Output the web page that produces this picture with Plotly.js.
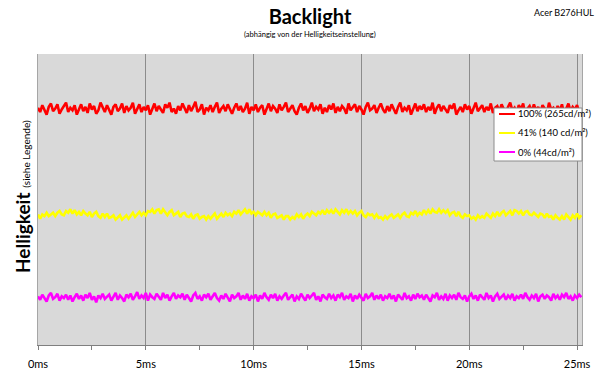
<!DOCTYPE html>
<html>
<head>
<meta charset="utf-8">
<script src="https://cdn.plot.ly/plotly-3.0.1.min.js"></script>
<style>html,body{margin:0;padding:0;background:#fff;}#chart{width:600px;height:384px;}</style>
</head>
<body>
<div id="chart"></div>
<script>
// sample spacing of the measurement (ms)
const sampleStartMs = 0;
const sampleStepMs = 0.1;

const seriesNames = ["100% (265cd/m\u00b2)", "41% (140 cd/m\u00b2)", "0% (44cd/m\u00b2)"];
const seriesColors = ["#ff0000", "#ffff00", "#ff00ff"];

const red100 = [
266,261,269,263,258,267,271,262,265,270,259,264,268,272,261,266,263,269,258,265,
270,262,267,260,271,264,268,259,263,272,266,261,269,264,258,267,270,262,265,271,
260,268,263,266,272,259,264,270,261,267,263,269,258,265,271,262,268,264,260,270,
266,272,261,265,259,268,263,271,266,260,269,262,267,273,261,264,270,258,266,263,
269,261,267,272,260,265,268,262,270,264,259,266,271,263,268,261,265,272,259,267,
263,270,261,266,269,258,264,271,262,268,265,260,270,263,267,272,261,265,269,262,
258,266,271,263,268,260,265,272,262,267,264,270,259,266,261,269,264,271,260,267,
262,268,265,259,271,263,266,270,261,268,264,258,267,272,263,265,269,260,266,271,
264,260,268,262,270,265,259,267,272,261,266,263,269,258,265,271,262,268,264,270,
261,267,263,272,259,266,270,262,268,264,260,269,265,271,258,263,267,261,270,264,
268,259,266,272,262,265,269,261,267,263,271,260,266,268,262,270,264,259,267,272,
263,266,260,269,264,271,258,265,268,262,270,263,267,261,269,265,259,272,264,266,
261,268,263,270,259,265,271,262,267,264,269,261,265];

const yellow41 = [
141,136,141,139,143,139,141,143,139,143,145,141,140,145,143,147,142,
146,141,144,140,145,142,140,144,138,142,144,139,137,142,138,142,137,138,140,135,138,140,135,
137,140,136,140,143,138,141,144,140,143,140,145,144,147,142,146,
147,142,147,143,140,144,146,140,142,144,138,142,143,139,138,141,136,140,141,136,138,139,135,
139,136,139,142,136,139,142,138,143,140,142,139,144,142,146,141,144,147,142,
147,142,144,140,144,142,140,144,140,143,137,141,142,137,139,140,135,139,139,135,
138,136,141,138,141,136,140,142,139,144,142,140,144,142,146,141,146,143,
146,142,147,144,141,146,143,147,142,145,
142,145,140,143,145,140,138,142,140,141,137,141,137,138,135,
139,136,139,141,137,139,141,137,141,143,139,138,143,141,145,140,143,141,146,142,146,142,147,144,143,147,
143,146,143,146,140,143,144,139,144,139,137,141,139,140,136,138,135,
140,137,139,137,142,139,137,142,139,144,139,143,145,140,143,145,140,146,145,
142,145,140,144,145,141,140,143,141,138,142,141,137,142,138,139,135,140,137,135,
139,135,141,138,135,140,137,142,137,140];

const magenta0 = [
45,41,47,43,39,46,49,42,44,48,40,45,43,47,41,46,39,44,48,42,
46,40,47,43,49,41,45,38,46,43,48,42,44,47,40,45,49,41,46,43,
39,47,44,48,41,45,50,42,46,43,49,40,47,44,42,48,45,41,49,43,
47,40,45,49,42,46,44,48,41,47,43,39,46,49,42,45,40,47,44,48,
41,45,49,43,40,46,42,48,44,39,47,43,45,49,41,46,42,48,40,45,
43,47,39,46,42,49,44,41,47,43,48,40,45,42,46,49,41,44,47,39,
45,42,48,44,40,47,43,46,49,41,45,39,47,44,42,48,43,46,40,47,
44,49,41,45,43,48,39,46,42,47,44,40,48,43,45,49,41,46,42,47,
40,45,43,48,42,46,39,47,44,41,49,43,45,40,47,42,48,44,46,41,
47,43,39,46,44,49,41,45,42,48,40,46,43,47,41,49,44,42,46,39,
45,48,42,46,40,47,44,41,49,43,46,39,45,48,42,44,47,41,46,43,
48,40,45,43,47,42,49,44,41,46,43,48,39,45,47,42,46,44,40,48,
43,46,41,47,44,49,42,45,40,46,43,47,44];

const tickValues = [0, 5, 10, 15, 20, 25];
const tickLabels = ["0ms", "5ms", "10ms", "15ms", "20ms", "25ms"];

const FONT = "Lato, 'Open Sans', sans-serif";
const allSeries = [red100, yellow41, magenta0];

// plot area in pixels (for paper-coordinate placement of text/legend)
const PL = 38, PR = 582, PT = 54, PB = 345;
const px = v => (v - PL) / (PR - PL);
const py = v => 1 - (v - PT) / (PB - PT);

const traces = allSeries.map((vals, k) => ({
  type: "scatter",
  mode: "lines",
  name: seriesNames[k],
  x0: sampleStartMs,
  dx: sampleStepMs,
  y: vals,
  line: {color: seriesColors[k], width: 2.6},
  hoverinfo: "skip",
  showlegend: false
}));

// custom legend box (Excel-like)
const legendRows = [114, 133, 152];
const shapes = [
  {type: "rect", xref: "paper", yref: "paper", x0: px(494), x1: px(582), y0: py(108), y1: py(161),
   fillcolor: "#ffffff", line: {color: "#8c8c8c", width: 1}, layer: "above"}
];
const annotations = [];
seriesNames.forEach((name, k) => {
  shapes.push({type: "line", xref: "paper", yref: "paper", x0: px(499), x1: px(515),
               y0: py(legendRows[k]), y1: py(legendRows[k]),
               line: {color: seriesColors[k], width: 2}, layer: "above"});
  annotations.push({text: name, xref: "paper", yref: "paper", x: px(516), y: py(legendRows[k]),
                    xanchor: "left", yanchor: "middle", showarrow: false,
                    font: {family: FONT, size: 9.5, color: "#000"}});
});

annotations.push(
  {text: "(abhängig von der Helligkeitseinstellung)", xref: "paper", yref: "paper",
   x: 0.5, y: py(34), xanchor: "center", yanchor: "middle", showarrow: false,
   font: {family: FONT, size: 7.5, color: "#000"}},
  {text: "Acer B276HUL", xref: "paper", yref: "paper",
   x: px(596), y: py(12), xanchor: "right", yanchor: "middle", showarrow: false,
   font: {family: FONT, size: 9, color: "#000"}},
  {text: "<b>Helligkeit</b> <span style='font-size:10px'>(siehe Legende)</span>", xref: "paper", yref: "paper",
   x: px(22), y: py(197), xanchor: "center", yanchor: "middle", textangle: -90,
   showarrow: false, font: {family: FONT, size: 19, color: "#000"}}
);

const layout = {
  width: 600, height: 384,
  margin: {l: PL, r: 600 - PR, t: PT, b: 384 - PB},
  paper_bgcolor: "#ffffff",
  plot_bgcolor: "#d9d9d9",
  font: {family: FONT, color: "#000"},
  showlegend: false,
  title: {text: "<b>Backlight</b>", x: 0.5, xref: "paper", xanchor: "center", y: 0.955, yanchor: "middle",
          font: {family: FONT, size: 20, color: "#000"}},
  xaxis: {
    range: [0, 25.23],
    automargin: false,
    tickvals: tickValues, ticktext: tickLabels,
    showgrid: true, gridcolor: "#8c8c8c", gridwidth: 1,
    zeroline: false,
    showline: true, linecolor: "#7f7f7f", linewidth: 1,
    ticks: "outside", ticklen: 4, tickcolor: "#7f7f7f",
    ticklabelstandoff: 5,
    minor: {tickvals: [2.5, 7.5, 12.5, 17.5, 22.5], ticks: "outside", ticklen: 4, tickcolor: "#7f7f7f", showgrid: false},
    tickfont: {family: FONT, size: 11, color: "#000"},
    fixedrange: true
  },
  yaxis: {
    range: [-12, 329],
    automargin: false,
    showticklabels: false, showgrid: false, zeroline: false,
    showline: true, linecolor: "#a6a6a6", linewidth: 1, mirror: true,
    ticks: "", fixedrange: true
  },
  shapes: shapes,
  annotations: annotations
};

Plotly.newPlot("chart", traces, layout, {displayModeBar: false, staticPlot: true});
</script>
</body>
</html>
